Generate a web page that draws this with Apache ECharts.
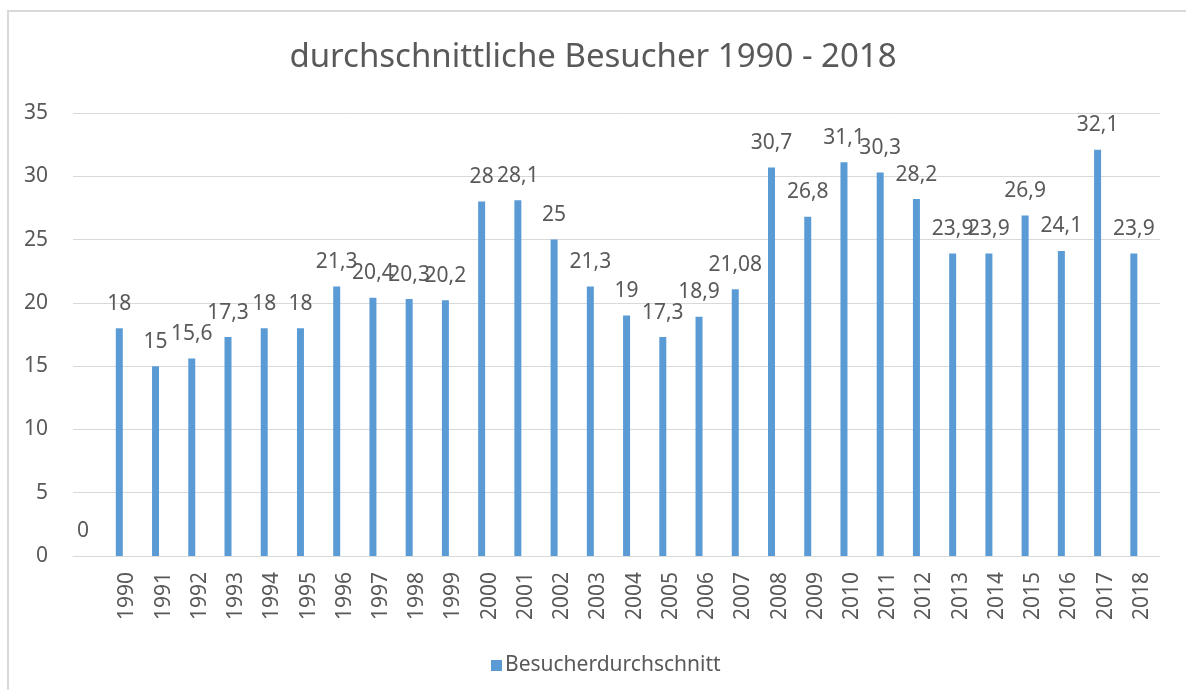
<!DOCTYPE html>
<html>
<head>
<meta charset="utf-8">
<script src="https://cdn.jsdelivr.net/npm/echarts@6/dist/echarts.min.js"></script>
<style>html,body{margin:0;padding:0;background:#fff}#c{width:1186px;height:690px}</style>
</head>
<body>
<div id="c"></div>
<script>
const categories = ['', '1990','1991','1992','1993','1994','1995','1996','1997','1998','1999','2000','2001','2002','2003','2004','2005','2006','2007','2008','2009','2010','2011','2012','2013','2014','2015','2016','2017','2018'];
const besucher = [0, 18, 15, 15.6, 17.3, 18, 18, 21.3, 20.4, 20.3, 20.2, 28, 28.1, 25, 21.3, 19, 17.3, 18.9, 21.08, 30.7, 26.8, 31.1, 30.3, 28.2, 23.9, 23.9, 26.9, 24.1, 32.1, 23.9];
const yTicks = [0, 5, 10, 15, 20, 25, 30, 35];
const emptySeries = categories.map(() => null);

const font = 'Noto Sans';
const txt = '#595959';
const chart = echarts.init(document.getElementById('c'));
chart.setOption({
  backgroundColor: '#fff',
  animation: false,
  title: {
    text: 'durchschnittliche Besucher 1990 - 2018',
    left: 'center',
    top: 36,
    textStyle: { fontFamily: font, fontSize: 33, fontWeight: 'normal', color: txt }
  },
  graphic: [{
    type: 'rect',
    shape: { x: 8, y: 11, width: 1200, height: 700 },
    style: { fill: 'none', stroke: '#d9d9d9', lineWidth: 2 },
    silent: true
  }],
  legend: {
    data: ['Besucherdurchschnitt'],
    left: 486,
    top: 650,
    icon: 'rect',
    itemWidth: 11,
    itemHeight: 11,
    itemGap: 10,
    textStyle: { fontFamily: font, fontSize: 21, color: txt, padding: [0, 0, 0, -2] }
  },
  grid: { left: 73, right: 26, top: 113, bottom: 134, containLabel: false },
  xAxis: {
    type: 'category',
    data: categories,
    axisTick: { show: false },
    axisLine: { lineStyle: { color: '#d9d9d9', width: 1 } },
    axisLabel: { rotate: 90, margin: 16, fontFamily: font, fontSize: 21, color: txt, interval: 0 }
  },
  yAxis: {
    type: 'value',
    min: 0, max: 35, interval: 5,
    axisLine: { show: false },
    axisTick: { show: false },
    splitLine: { lineStyle: { color: '#d9d9d9', width: 1 } },
    axisLabel: {
      margin: 25, fontFamily: font, fontSize: 21, color: txt,
      formatter: v => yTicks.includes(v) ? String(v) : ''
    }
  },
  series: [{
    name: 'Besucherdurchschnitt',
    type: 'bar',
    data: besucher,
    barWidth: 7,
    barGap: '130%',
    itemStyle: { color: '#5b9bd5' },
    label: {
      show: true, position: 'top', distance: 14,
      fontFamily: font, fontSize: 21, color: txt,
      formatter: p => String(p.value).replace('.', ',')
    }
  }, {
    name: 'hidden',
    type: 'bar',
    data: emptySeries,
    barWidth: 7,
    itemStyle: { color: 'transparent' }
  }]
});
</script>
</body>
</html>
